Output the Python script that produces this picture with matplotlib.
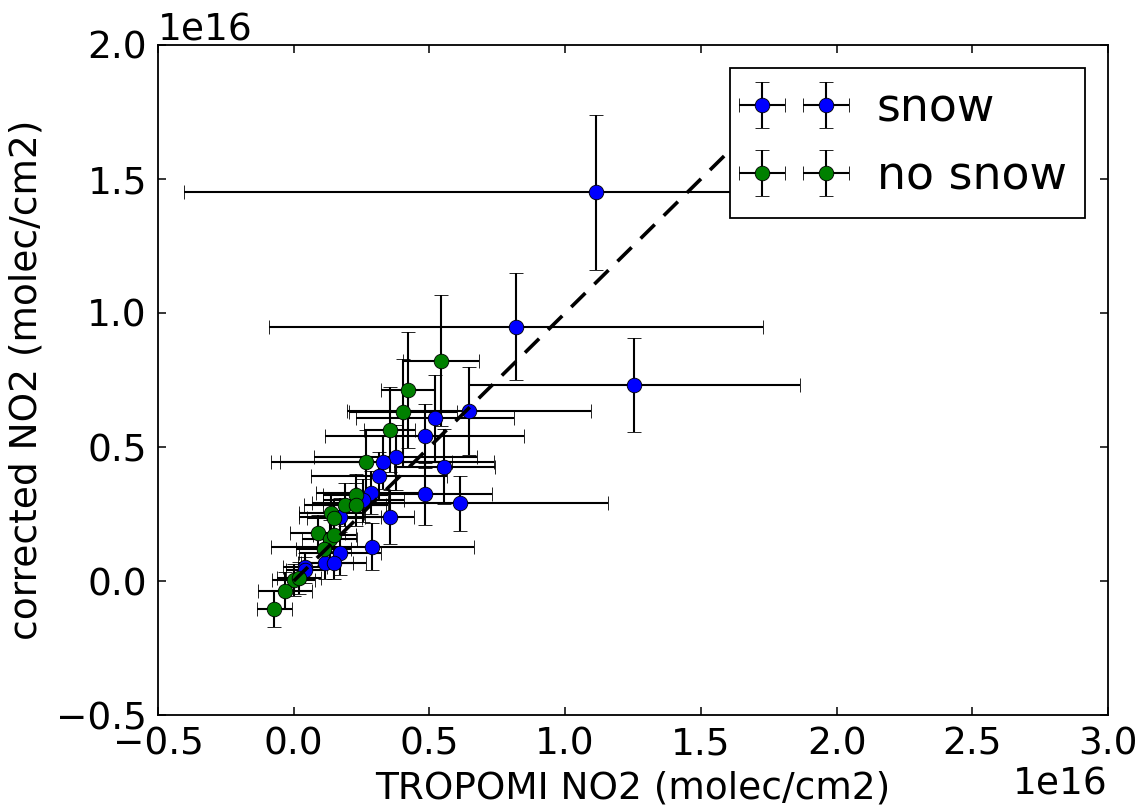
import matplotlib
matplotlib.use("Agg")
import matplotlib.pyplot as plt
import numpy as np

# NO2 columns in units of 1e16 molec/cm2
SCALE = 1e16

snow_tropomi = [1.114, 0.820, 1.254, 0.646, 0.521, 0.482, 0.555, 0.375, 0.328, 0.314, 0.482,
                0.613, 0.283, 0.257, 0.353, 0.171, 0.290, 0.171, 0.117, 0.147, 0.042, 0.043]
snow_corrected = [1.450, 0.949, 0.730, 0.634, 0.609, 0.541, 0.427, 0.461, 0.444, 0.392, 0.325,
                  0.290, 0.330, 0.302, 0.238, 0.240, 0.128, 0.103, 0.068, 0.068, 0.053, 0.041]
snow_xerr = [1.52, 0.91, 0.61, 0.45, 0.29, 0.365, 0.187, 0.30, 0.41, 0.25, 0.25,
             0.546, 0.20, 0.15, 0.09, 0.15, 0.375, 0.15, 0.10, 0.12, 0.08, 0.07]
snow_yerr = [0.29, 0.20, 0.175, 0.165, 0.16, 0.12, 0.14, 0.12, 0.10, 0.09, 0.116,
             0.103, 0.08, 0.08, 0.10, 0.07, 0.087, 0.08, 0.06, 0.06, 0.05, 0.05]

nosnow_tropomi = [0.543, 0.421, 0.402, 0.353, 0.267, 0.228, 0.189, 0.228, 0.138, 0.150,
                  0.088, 0.132, 0.150, 0.110, 0.000, 0.020, -0.031, -0.072]
nosnow_corrected = [0.822, 0.713, 0.629, 0.565, 0.444, 0.320, 0.285, 0.285, 0.253, 0.234,
                    0.178, 0.158, 0.172, 0.118, 0.004, 0.010, -0.036, -0.103]
nosnow_xerr = [0.14, 0.098, 0.20, 0.095, 0.317, 0.12, 0.15, 0.12, 0.12, 0.10,
               0.10, 0.10, 0.08, 0.10, 0.08, 0.08, 0.10, 0.065]
nosnow_yerr = [0.245, 0.217, 0.20, 0.16, 0.12, 0.08, 0.08, 0.08, 0.07, 0.07,
               0.07, 0.07, 0.06, 0.06, 0.06, 0.06, 0.07, 0.067]

one_to_one = [0.0, 1.8]

plt.rcParams['font.family'] = ['DejaVu Sans']

fig = plt.figure(figsize=(11.43, 8.07), dpi=100)
fig.patch.set_facecolor('white')
ax = fig.add_axes([158 / 1143, 1 - 715 / 807, 950 / 1143, 670 / 807])

s = lambda v: np.asarray(v) * SCALE

ebkw = dict(ecolor='black', elinewidth=1.5, capsize=4.8, capthick=1.5,
            markersize=10.5, markeredgecolor='black', markeredgewidth=0.6, linestyle='none')
ax.errorbar(s(snow_tropomi), s(snow_corrected), xerr=s(snow_xerr), yerr=s(snow_yerr),
            fmt='o', color='blue', label='snow', **ebkw)
ax.errorbar(s(nosnow_tropomi), s(nosnow_corrected), xerr=s(nosnow_xerr), yerr=s(nosnow_yerr),
            fmt='o', color='green', label='no snow', **ebkw)
ax.plot(s(one_to_one), s(one_to_one), 'k--', linewidth=2.6, dashes=(5.5, 3.5), zorder=2.5)

ax.set_xlim(-0.5e16, 3.0e16)
ax.set_ylim(-0.5e16, 2.0e16)
ax.set_xticks(np.arange(-0.5, 3.01, 0.5) * SCALE)
ax.set_yticks(np.arange(-0.5, 2.01, 0.5) * SCALE)

ax.set_xlabel('TROPOMI NO2 (molec/cm2)', fontsize=27, labelpad=6)
ax.set_ylabel('corrected NO2 (molec/cm2)', fontsize=27, labelpad=8)
ax.tick_params(axis='both', which='major', direction='in', length=6, width=1.1,
               labelsize=27, top=True, right=True, pad=8)
ax.xaxis.get_offset_text().set_fontsize(27)
ax.yaxis.get_offset_text().set_fontsize(27)
for sp in ax.spines.values():
    sp.set_linewidth(1.3)

leg = ax.legend(loc='upper right', numpoints=2, fontsize=33, fancybox=False,
                framealpha=1, edgecolor='black', handlelength=2.0, borderaxespad=0.5)
leg.get_frame().set_linewidth(1.3)

fig.savefig('out.png', dpi=100, facecolor='white')
